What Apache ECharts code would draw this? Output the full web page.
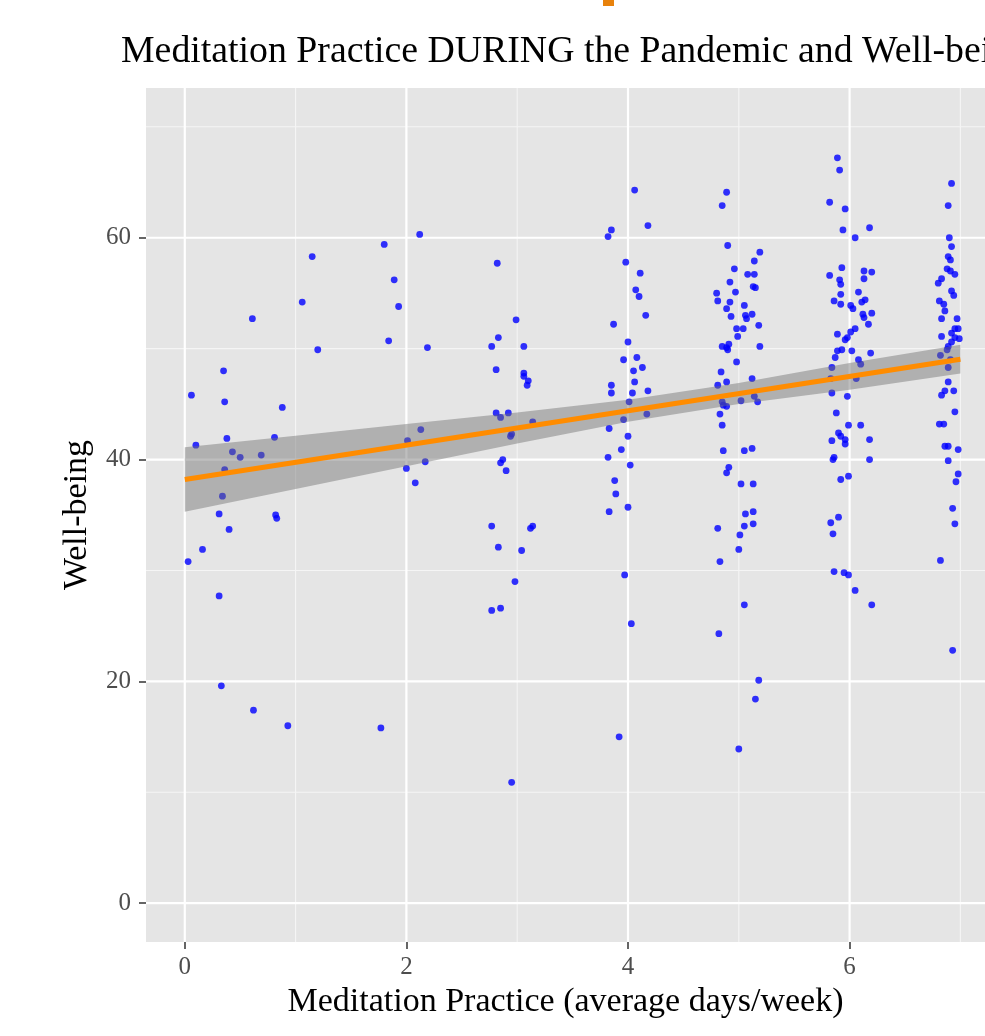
<!DOCTYPE html>
<html>
<head>
<meta charset="utf-8">
<title>Meditation Practice and Well-being</title>
<script src="https://cdn.jsdelivr.net/npm/echarts@6/dist/echarts.min.js"></script>
<style>
  html, body { margin: 0; padding: 0; background: #fff; overflow: hidden; }
  #chart { width: 985px; height: 1036px; }
</style>
</head>
<body>
<div id="chart"></div>
<script>
// points, grouped by the rough practice level
var near0 = [[1.15,58.3],[1.06,54.2],[0.61,52.7],[1.2,49.9],[0.35,48.0],[0.06,45.8],[0.36,45.2],[0.88,44.7],
  [0.1,41.3],[0.38,41.9],[0.81,42.0],[0.43,40.7],[0.5,40.2],[0.69,40.4],[0.36,39.1],[0.34,36.7],[0.31,35.1],
  [0.82,35.0],[0.83,34.7],[0.4,33.7],[0.16,31.9],[0.03,30.8],[0.31,27.7],[0.33,19.6],[0.62,17.4],[0.93,16.0]];
var near2 = [[2.12,60.3],[1.8,59.4],[1.89,56.2],[1.93,53.8],[1.84,50.7],[2.19,50.1],[2.13,42.7],[2.01,41.7],
  [2.17,39.8],[2.0,39.2],[2.08,37.9],[1.77,15.8]];
var near3 = [[2.82,57.7],[2.99,52.6],[2.83,51.0],[2.77,50.2],[3.06,50.2],[2.81,48.1],[3.06,47.8],[3.06,47.5],
  [3.1,47.1],[3.09,46.7],[2.81,44.2],[2.85,43.8],[2.92,44.2],[3.14,43.4],[2.94,42.1],[2.95,42.3],[2.87,40.0],
  [2.85,39.7],[2.9,39.0],[2.77,34.0],[3.12,33.8],[3.14,34.0],[2.83,32.1],[3.04,31.8],[2.98,29.0],[2.77,26.4],
  [2.85,26.6],[2.95,10.9]];
var near4 = [[4.06,64.3],[4.18,61.1],[3.85,60.7],[3.82,60.1],[3.98,57.8],[4.11,56.8],[4.07,55.3],[4.1,54.7],
  [4.16,53.0],[3.87,52.2],[4.0,50.6],[3.96,49.0],[4.08,49.2],[4.05,48.0],[4.13,48.3],[4.06,47.0],[3.85,46.7],
  [3.85,46.0],[4.04,46.0],[4.18,46.2],[4.01,45.2],[4.17,44.1],[3.96,43.6],[3.83,42.8],[4.0,42.1],[3.94,40.9],
  [3.82,40.2],[4.02,39.5],[3.88,38.1],[3.89,36.9],[4.0,35.7],[3.83,35.3],[3.97,29.6],[4.03,25.2],[3.92,15.0]];
var near5 = [[4.89,64.1],[4.85,62.9],[4.9,59.3],[5.19,58.7],[5.14,57.9],[4.96,57.2],[5.08,56.7],[5.14,56.7],
  [4.92,56.0],[5.13,55.6],[5.15,55.5],[4.97,55.1],[4.8,55.0],[4.81,54.3],[4.92,54.2],[4.89,53.6],[5.05,53.9],
  [5.06,53.0],[5.07,52.7],[5.12,53.1],[4.93,52.9],[5.18,52.1],[4.98,51.8],[5.04,51.8],[4.99,51.1],[4.85,50.2],
  [4.89,50.1],[4.91,50.4],[4.9,49.9],[5.19,50.2],[4.98,48.8],[4.84,47.9],[4.81,46.7],[4.89,47.0],[5.12,47.3],
  [5.02,45.3],[4.85,45.2],[4.86,44.9],[4.89,44.8],[5.14,45.7],[5.17,45.2],[4.83,44.1],[4.85,43.1],[4.86,40.8],
  [5.05,40.8],[5.12,41.0],[4.91,39.3],[4.89,38.8],[5.02,37.8],[5.13,37.8],[5.06,35.1],[5.13,35.3],[4.81,33.8],
  [5.05,34.0],[5.13,34.2],[5.01,33.2],[5.0,31.9],[4.83,30.8],[5.05,26.9],[4.82,24.3],[5.18,20.1],[5.15,18.4],
  [5.0,13.9]];
var near6 = [[5.89,67.2],[5.91,66.1],[5.82,63.2],[5.96,62.6],[5.94,60.7],[6.18,60.9],[6.05,60.0],[5.93,57.3],
  [5.82,56.6],[6.13,57.0],[6.2,56.9],[5.91,56.2],[5.92,55.8],[6.13,56.3],[5.92,54.9],[5.86,54.3],[5.92,54.0],
  [6.08,55.1],[6.11,54.2],[6.14,54.4],[6.01,53.9],[6.03,53.6],[6.12,53.1],[6.2,53.2],[6.13,52.8],[6.17,52.2],
  [6.05,51.8],[6.01,51.5],[5.98,51.0],[5.89,51.3],[5.96,50.8],[5.89,49.8],[5.93,49.9],[6.02,49.8],[5.87,49.2],
  [6.19,49.6],[6.08,49.0],[6.1,48.6],[5.84,48.3],[6.06,47.3],[5.83,47.3],[5.84,46.0],[5.98,45.7],[5.88,44.2],
  [5.99,43.1],[6.1,43.1],[5.9,42.4],[5.92,42.1],[5.84,41.7],[5.96,41.8],[5.96,41.4],[6.18,41.8],[5.86,40.2],
  [5.85,40.0],[6.18,40.0],[5.92,38.2],[5.99,38.5],[5.9,34.8],[5.83,34.3],[5.85,33.3],[5.86,29.9],[5.95,29.8],
  [5.99,29.6],[6.05,28.2],[6.2,26.9]];
var near7 = [[6.92,64.9],[6.89,62.9],[6.9,60.0],[6.92,59.2],[6.89,58.3],[6.91,58.0],[6.88,57.2],[6.91,57.0],
  [6.95,56.7],[6.8,55.9],[6.83,56.3],[6.92,55.2],[6.94,54.8],[6.81,54.3],[6.85,54.0],[6.86,53.4],[6.83,52.7],
  [6.97,52.7],[6.95,51.8],[6.98,51.8],[6.92,51.4],[6.99,50.9],[6.95,51.0],[6.83,51.1],[6.92,50.6],[6.89,50.2],
  [6.88,49.9],[6.82,49.4],[6.91,49.0],[6.89,48.3],[6.89,47.0],[6.94,46.2],[6.86,46.2],[6.83,45.8],[6.95,44.3],
  [6.81,43.2],[6.85,43.2],[6.86,41.2],[6.89,41.2],[6.98,40.9],[6.89,39.9],[6.98,38.7],[6.96,38.0],[6.93,35.6],
  [6.95,34.2],[6.82,30.9],[6.93,22.8]];

// fitted line and its grey confidence band
var fitX = [0, 7];
var fitY = [38.2, 49.05];
var bandX = [0, 1, 2, 3, 4, 5, 6, 7];
var bandLow = [35.3, 37.35, 39.4, 41.45, 43.4, 45.0, 46.3, 47.75];
var bandHigh = [41.1, 42.15, 43.2, 44.25, 45.4, 46.9, 48.7, 50.35];

// tick labels
var xTicks = [0, 2, 4, 6];
var xMinorTicks = [1, 3, 5, 7];
var yTicks = [0, 20, 40, 60];
var yMinorTicks = [10, 30, 50, 70];

var points = near0.concat(near2, near3, near4, near5, near6, near7);
var serif = "'Liberation Serif', 'DejaVu Serif', serif";

var chart = echarts.init(document.getElementById('chart'));

// gridlines: [value, 0 = vertical / 1 = horizontal, major?]
var gridData = [];
xMinorTicks.forEach(function (v) { gridData.push([v, 0, 0]); });
yMinorTicks.forEach(function (v) { gridData.push([v, 1, 0]); });
xTicks.forEach(function (v) { gridData.push([v, 0, 1]); });
yTicks.forEach(function (v) { gridData.push([v, 1, 1]); });

var option = {
  animation: false,
  backgroundColor: '#ffffff',
  title: {
    text: 'Meditation Practice DURING the Pandemic and Well-being',
    left: 116,
    top: 28,
    textStyle: { fontFamily: serif, fontWeight: 'normal', fontSize: 37.8, color: '#000' }
  },
  // bit of an orange shape cut off at the top edge of the picture
  graphic: [
    { type: 'rect', left: 603, top: 0, shape: { width: 11, height: 6 }, style: { fill: '#e8820c' } }
  ],
  grid: {
    left: 146,
    right: 0,
    top: 88,
    bottom: 94,
    show: true,
    backgroundColor: '#e5e5e5',
    borderWidth: 0
  },
  xAxis: {
    type: 'value',
    min: -0.35,
    max: 7.222,
    name: 'Meditation Practice (average days/week)',
    nameLocation: 'middle',
    nameGap: 40,
    nameTextStyle: { fontFamily: serif, fontSize: 34, color: '#000' },
    axisLine: { show: false, onZero: false },
    splitLine: { show: false },
    axisTick: { show: true, customValues: xTicks, length: 7, lineStyle: { color: '#333', width: 1.5 } },
    axisLabel: { customValues: xTicks, fontFamily: serif, fontSize: 25, color: '#4d4d4d', margin: 13 }
  },
  yAxis: {
    type: 'value',
    min: -3.5,
    max: 73.5,
    name: 'Well-being',
    nameLocation: 'middle',
    nameGap: 52,
    nameTextStyle: { fontFamily: serif, fontSize: 34, color: '#000' },
    axisLine: { show: false, onZero: false },
    splitLine: { show: false },
    axisTick: { show: true, customValues: yTicks, length: 7, lineStyle: { color: '#333', width: 1.5 } },
    axisLabel: { customValues: yTicks, fontFamily: serif, fontSize: 25, color: '#4d4d4d', margin: 15 }
  },
  series: [
    {
      type: 'custom',
      silent: true,
      z: 1,
      data: gridData,
      renderItem: function (params, api) {
        var cs = params.coordSys;
        var v = api.value(0), horiz = api.value(1) === 1, major = api.value(2) === 1;
        var shape;
        if (horiz) {
          var py = api.coord([0, v])[1];
          shape = { x1: cs.x, y1: py, x2: cs.x + cs.width, y2: py };
        } else {
          var px = api.coord([v, 0])[0];
          shape = { x1: px, y1: cs.y, x2: px, y2: cs.y + cs.height };
        }
        return {
          type: 'line',
          shape: shape,
          style: { stroke: major ? '#ffffff' : '#f5f5f5', lineWidth: major ? 2.2 : 1.1 }
        };
      }
    },
    {
      type: 'scatter',
      z: 2,
      symbol: 'circle',
      symbolSize: 6.8,
      itemStyle: { color: '#0000ff' },
      data: points
    },
    {
      type: 'custom',
      silent: true,
      z: 3,
      data: [0],
      renderItem: function (params, api) {
        var pts = [];
        for (var i = 0; i < bandX.length; i++) pts.push(api.coord([bandX[i], bandHigh[i]]));
        for (var j = bandX.length - 1; j >= 0; j--) pts.push(api.coord([bandX[j], bandLow[j]]));
        return {
          type: 'polygon',
          shape: { points: pts },
          style: { fill: 'rgba(110,110,110,0.45)' }
        };
      }
    },
    {
      type: 'line',
      z: 4,
      symbol: 'none',
      lineStyle: { color: '#ff8c00', width: 5 },
      data: fitX.map(function (x, i) { return [x, fitY[i]]; })
    }
  ]
};

chart.setOption(option);
</script>
</body>
</html>
